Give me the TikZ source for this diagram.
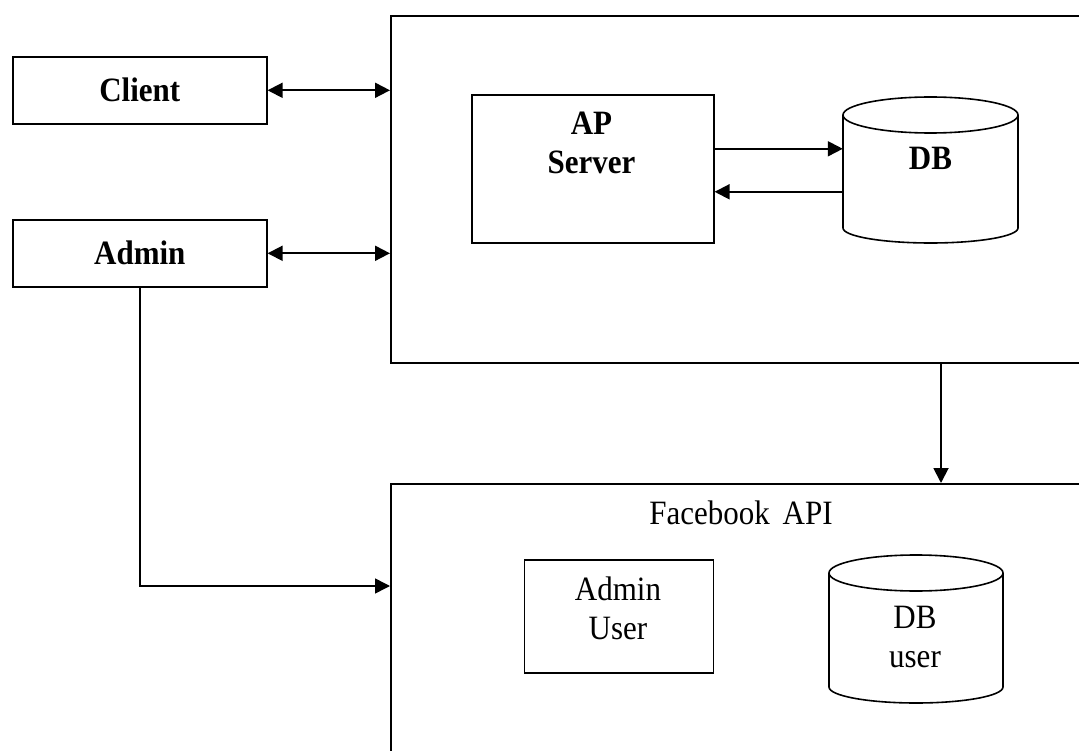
\documentclass[tikz,border=0pt]{standalone}
\usepackage{graphicx}
\usepackage{fontspec}
\setmainfont{Liberation Serif}
\usetikzlibrary{arrows.meta}
\newcommand\vstr[1]{\scalebox{1}[1.1]{#1}}
\begin{document}
\begin{tikzpicture}[x=1pt,y=-1pt,
  box/.style={draw, line width=1.6pt, inner sep=0pt},
  txt/.style={font=\fontsize{31}{39}\selectfont, align=center, inner sep=0pt},
  btxt/.style={txt, font=\fontsize{31}{39}\selectfont\bfseries},
  conn/.style={line width=1.9pt, -{Triangle[length=15pt,width=15pt]}},
  bconn/.style={line width=1.9pt, {Triangle[length=15pt,width=15pt]}-{Triangle[length=15pt,width=15pt]}},
  cyl/.style={line width=1.6pt}]
\useasboundingbox (0,0) rectangle (1079,751);
\fill[white] (0,0) rectangle (1079,751);
\clip (0,0) rectangle (1079,751);

% left boxes
\node[box, btxt, minimum width=254pt, minimum height=67pt, anchor=north west] (client) at (12,56) {\vstr{Client}};
\node[box, btxt, minimum width=254pt, minimum height=67pt, anchor=north west] (admin) at (12,219) {\vstr{Admin}};

% server area
\node[box, minimum width=720pt, minimum height=347pt, anchor=north west] (srv) at (390,15) {};
\node[box, minimum width=242pt, minimum height=148pt, anchor=north west] (ap) at (471,94) {};
\node[btxt] (aptxt) at (591.5,143) {\vstr{AP}\\\vstr{Server}};

% DB cylinder
\node[minimum width=175pt, minimum height=146pt, inner sep=0pt] (db) at (930.5,170) {};
\draw[cyl] (843,115) -- (843,228) arc[start angle=180, end angle=360, x radius=87.5pt, y radius=15pt] -- (1018,115);
\draw[cyl] (930.5,115) ellipse [x radius=87.5pt, y radius=18pt];
\node[btxt] (dbtxt) at (930.5,158) {\vstr{DB}};

% facebook area
\node[box, minimum width=720pt, minimum height=300pt, anchor=north west] (fb) at (390,483) {};
\node[txt] (fbtxt) at (741,513) {\vstr{Facebook\, API}};
\node[box, minimum width=189pt, minimum height=113pt, anchor=north west] (au) at (523.5,559) {};
\node[txt] (autxt) at (618,608.5) {\vstr{Admin}\\\vstr{User}};

% DB user cylinder
\node[minimum width=174pt, minimum height=148pt, inner sep=0pt] (dbu) at (916,629) {};
\draw[cyl] (829,573) -- (829,687) arc[start angle=180, end angle=360, x radius=87pt, y radius=16pt] -- (1003,573);
\draw[cyl] (916,573) ellipse [x radius=87pt, y radius=18pt];
\node[txt] (dbutxt) at (915,636.5) {\vstr{DB}\\\vstr{user}};

% connectors
\draw[bconn] (client.east) -- (client.east -| srv.west);
\draw[bconn] (admin.east) -- (admin.east -| srv.west);
\draw[conn] ([yshift=20pt]ap.east) -- ([yshift=20pt]ap.east -| db.west);
\draw[conn] ([yshift=-23pt]ap.east -| db.west) -- ([yshift=-23pt]ap.east);
\coordinate (down) at (941,362);
\draw[conn] (down) -- (down |- fb.north);
\coordinate (fbin) at (390,586);
\draw[conn, line width=1.5pt] (admin.south) |- (fbin);
\end{tikzpicture}
\end{document}
